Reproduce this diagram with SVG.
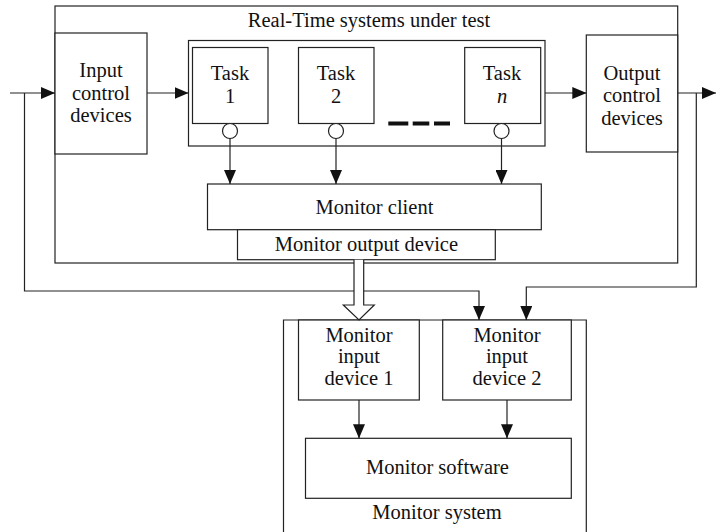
<svg xmlns="http://www.w3.org/2000/svg" width="717" height="532" viewBox="0 0 717 532">
  <style>
    .box { fill: #fff; stroke: #222; stroke-width: 1.2; }
    .frame { fill: none; stroke: #222; stroke-width: 1.2; }
    .wire { fill: none; stroke: #222; stroke-width: 1.2; }
    .lbl { font-family: "Liberation Serif", "Times New Roman", serif; font-size: 20.5px; fill: #111; text-anchor: middle; }
    .it { font-style: italic; }
  </style>
  <defs>
    <marker id="head" markerUnits="userSpaceOnUse" markerWidth="14" markerHeight="12" refX="14" refY="6" orient="auto">
      <path d="M0,0 L14,6 L0,12 z" fill="#111"/>
    </marker>
  </defs>

  <rect width="717" height="532" fill="#fff"/>

  <!-- system under test frame -->
  <g id="rt-system">
    <rect class="frame" x="55" y="6" width="622.7" height="257"/>
    <text class="lbl" x="369" y="27">Real-Time systems under test</text>
  </g>

  <g id="input-control">
    <rect class="box" x="55" y="33" width="92" height="121"/>
    <text class="lbl" x="101" y="77">Input</text>
    <text class="lbl" x="101" y="99.5">control</text>
    <text class="lbl" x="101" y="122">devices</text>
  </g>

  <g id="task-group">
    <rect class="frame" x="188.5" y="40.5" width="356.5" height="105.5"/>
  </g>

  <g id="task-1">
    <rect class="box" x="192.5" y="47.5" width="75.5" height="76"/>
    <text class="lbl" x="230" y="80">Task</text>
    <text class="lbl" x="230" y="103">1</text>
    <circle class="box" cx="230" cy="131" r="7.5"/>
  </g>

  <g id="task-2">
    <rect class="box" x="298.5" y="47.5" width="75.5" height="76"/>
    <text class="lbl" x="336" y="80">Task</text>
    <text class="lbl" x="336" y="103">2</text>
    <circle class="box" cx="336" cy="131" r="7.5"/>
  </g>

  <g id="task-ellipsis">
    <path d="M388.3,123.5 H408.3 M412.7,123.5 H429.3 M434,123.5 H450" stroke="#111" stroke-width="4" fill="none"/>
  </g>

  <g id="task-n">
    <rect class="box" x="464.7" y="47.5" width="76" height="76"/>
    <text class="lbl" x="502" y="80">Task</text>
    <text class="lbl it" x="502" y="103">n</text>
    <circle class="box" cx="501.5" cy="131" r="7.5"/>
  </g>

  <g id="output-control">
    <rect class="box" x="586.3" y="35" width="91.4" height="117"/>
    <text class="lbl" x="632" y="80">Output</text>
    <text class="lbl" x="632" y="102">control</text>
    <text class="lbl" x="632" y="124.5">devices</text>
  </g>

  <g id="monitor-client">
    <rect class="box" x="207.5" y="184" width="333.8" height="45.7"/>
    <text class="lbl" x="374.4" y="213.5">Monitor client</text>
  </g>

  <g id="monitor-output-device">
    <rect class="box" x="237.5" y="229.7" width="257.8" height="30"/>
    <text class="lbl" x="366.4" y="250.5">Monitor output device</text>
  </g>

  <!-- monitor system frame (runs past the lower edge) -->
  <g id="monitor-system">
    <path class="frame" d="M283.5,540 V320 H586.3 V540"/>
    <text class="lbl" x="437" y="519">Monitor system</text>
  </g>

  <g id="monitor-input-1">
    <rect class="box" x="298.5" y="320" width="120.8" height="80"/>
    <text class="lbl" x="359" y="341.7">Monitor</text>
    <text class="lbl" x="359" y="363.3">input</text>
    <text class="lbl" x="359" y="385">device 1</text>
  </g>

  <g id="monitor-input-2">
    <rect class="box" x="442.7" y="320" width="128.6" height="80"/>
    <text class="lbl" x="507" y="341.7">Monitor</text>
    <text class="lbl" x="507" y="363.3">input</text>
    <text class="lbl" x="507" y="385">device 2</text>
  </g>

  <g id="monitor-software">
    <rect class="box" x="305.5" y="438.3" width="265.8" height="60"/>
    <text class="lbl" x="437.5" y="473.5">Monitor software</text>
  </g>

  <g id="connectors">
    <!-- signal path through the system -->
    <path class="wire" d="M10,93 H55" marker-end="url(#head)"/>
    <path class="wire" d="M147,93 H188.5" marker-end="url(#head)"/>
    <path class="wire" d="M545,93 H586.3" marker-end="url(#head)"/>
    <path class="wire" d="M677.7,93 H716" marker-end="url(#head)"/>
    <!-- task probes to monitor client -->
    <path class="wire" d="M230,138.5 V184" marker-end="url(#head)"/>
    <path class="wire" d="M336,138.5 V184" marker-end="url(#head)"/>
    <path class="wire" d="M501.5,138.5 V184" marker-end="url(#head)"/>
    <!-- taps to monitor input device 2 -->
    <path class="wire" d="M24.5,93 V291 H479 V320" marker-end="url(#head)"/>
    <path class="wire" d="M696.3,93 V287 H526.3 V320" marker-end="url(#head)"/>
    <!-- inputs to monitor software -->
    <path class="wire" d="M359,400 V438.3" marker-end="url(#head)"/>
    <path class="wire" d="M507,400 V438.3" marker-end="url(#head)"/>
    <!-- hollow transfer arrow -->
    <path d="M354,259.7 V305 H343.3 L359,320 L374.3,305 H363.7 V259.7" fill="#fff" stroke="#222" stroke-width="1.2"/>
  </g>
</svg>
